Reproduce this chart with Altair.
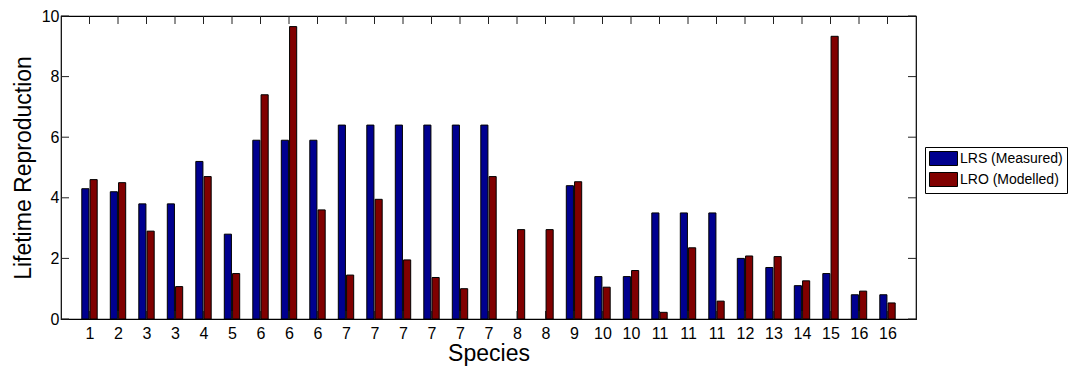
import json
import altair as alt
import pandas as pd

species = ["1", "2", "3", "3", "4", "5", "6", "6", "6", "7", "7", "7", "7", "7", "7",
           "8", "8", "9", "10", "10", "11", "11", "11", "12", "13", "14", "15", "16", "16"]
lrs = [4.3, 4.2, 3.8, 3.8, 5.2, 2.8, 5.9, 5.9, 5.9, 6.4, 6.4, 6.4, 6.4, 6.4, 6.4,
       None, None, 4.4, 1.4, 1.4, 3.5, 3.5, 3.5, 2.0, 1.7, 1.1, 1.5, 0.8, 0.8]
lro = [4.6, 4.5, 2.9, 1.07, 4.7, 1.5, 7.4, 9.65, 3.6, 1.45, 3.95, 1.95, 1.37, 1.0, 4.7,
       2.95, 2.95, 4.53, 1.05, 1.6, 0.22, 2.35, 0.59, 2.08, 2.06, 1.26, 9.33, 0.92, 0.53]
series_names = ["LRS (Measured)", "LRO (Modelled)"]
series_colors = ["#00008F", "#800000"]
y_ticks = [0, 2, 4, 6, 8, 10]

W, H = 855, 303
TICK = 8

rows = []
for i, (a, b) in enumerate(zip(lrs, lro), start=1):
    rows.append({"idx": i, "series": series_names[0], "value": a, "side": 0})
    rows.append({"idx": i, "series": series_names[1], "value": b, "side": 1})
df = pd.DataFrame(rows)
df_idx = pd.DataFrame({"idx": list(range(1, len(species) + 1))})
df_y = pd.DataFrame({"v": y_ticks})

label_expr = f"{json.dumps(species)}[datum.value - 1]"

xscale = alt.Scale(domain=[0, len(species) + 1], nice=False, zero=False)
yscale = alt.Scale(domain=[0, 10], nice=False)

x_axis = alt.Axis(
    values=list(range(1, len(species) + 1)),
    labelExpr=label_expr,
    title="Species",
    grid=False,
    ticks=False,
    tickSize=0,
    domain=False,
    labelPadding=6,
    labelFontSize=16,
    titleFontSize=23,
    titlePadding=1,
    labelColor="black",
    titleColor="black",
    titleFontWeight="normal",
)
y_axis = alt.Axis(
    values=y_ticks,
    format="d",
    title="Lifetime Reproduction",
    grid=False,
    ticks=False,
    tickSize=0,
    domain=False,
    labelPadding=2,
    labelFontSize=16,
    titleFontSize=23,
    titlePadding=6,
    labelColor="black",
    titleColor="black",
    titleFontWeight="normal",
)

bars = (
    alt.Chart(df)
    .transform_filter("isValid(datum.value)")
    .transform_calculate(
        x0="datum.idx + (datum.side == 0 ? -0.27 : 0.02)",
        x1="datum.idx + (datum.side == 0 ? -0.02 : 0.27)",
    )
    .mark_rect(stroke="black", strokeWidth=1)
    .encode(
        x=alt.X("x0:Q", scale=xscale, axis=x_axis),
        x2="x1:Q",
        y=alt.Y("value:Q", scale=yscale, axis=y_axis),
        y2=alt.datum(0),
        fill=alt.Fill(
            "series:N",
            scale=alt.Scale(domain=series_names, range=series_colors),
            sort=series_names,
            legend=alt.Legend(
                title=None,
                orient="none",
                legendX=864,
                legendY=131,
                symbolType="M-1,-1H3V1H-1Z",
                symbolSize=196,
                symbolStrokeColor="black",
                symbolStrokeWidth=1,
                symbolOpacity=1,
                labelFontSize=14,
                labelColor="black",
                labelOffset=16,
                rowPadding=2,
                padding=4,
                strokeColor="black",
                fillColor="white",
            ),
        ),
    )
)

bottom_ticks = (
    alt.Chart(df_idx)
    .mark_rule(color="#222", strokeWidth=1)
    .encode(x=alt.X("idx:Q", scale=xscale, axis=x_axis), y=alt.value(H), y2=alt.value(H - TICK))
)
top_ticks = (
    alt.Chart(df_idx)
    .mark_rule(color="#222", strokeWidth=1)
    .encode(x=alt.X("idx:Q", scale=xscale, axis=x_axis), y=alt.value(0), y2=alt.value(TICK))
)
left_ticks = (
    alt.Chart(df_y)
    .mark_rule(color="#222", strokeWidth=1)
    .encode(y=alt.Y("v:Q", scale=yscale, axis=y_axis), x=alt.value(0), x2=alt.value(TICK))
)
right_ticks = (
    alt.Chart(df_y)
    .mark_rule(color="#222", strokeWidth=1)
    .encode(y=alt.Y("v:Q", scale=yscale, axis=y_axis), x=alt.value(W), x2=alt.value(W - TICK))
)

chart = (
    alt.layer(bars, bottom_ticks, top_ticks, left_ticks, right_ticks)
    .properties(
        width=W,
        height=H,
        autosize=alt.AutoSizeParams(type="none"),
        padding={"left": 61, "top": 16, "right": 1079 - 61 - W, "bottom": 367 - 16 - H},
    )
    .configure(font="Liberation Sans")
    .configure_view(stroke="black", strokeWidth=1.2)
)

chart.save("out.html", embed_options={"renderer": "svg", "actions": False})
